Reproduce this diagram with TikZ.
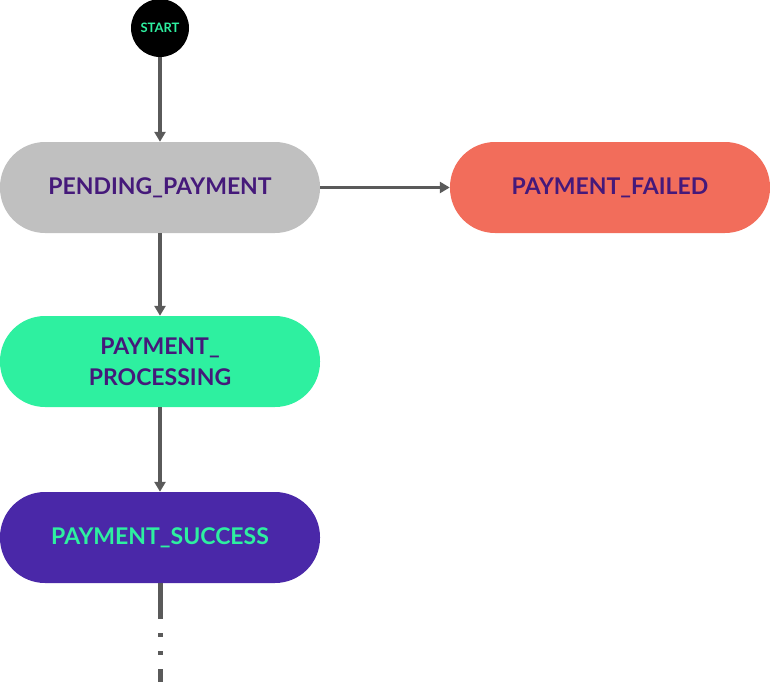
\documentclass[tikz,border=0pt]{standalone}
\usepackage{fontspec}
\setmainfont{Lato}
\usetikzlibrary{arrows.meta}
\definecolor{txtp}{HTML}{45197A}
\definecolor{gry}{HTML}{C0C0C0}
\definecolor{grn}{HTML}{2EF0A0}
\definecolor{prp}{HTML}{4A28A8}
\definecolor{red}{HTML}{F26D5B}
\definecolor{ln}{HTML}{5A5A5A}
\begin{document}
\begin{tikzpicture}[x=1pt,y=-1pt,
 st/.style={rounded corners=45pt,minimum width=320pt,minimum height=91pt,inner sep=0pt,align=center,font=\fontsize{23}{31}\selectfont\bfseries,text=txtp},
 ar/.style={draw=ln,line width=3.5pt,-{Triangle[length=10pt,width=11pt]}}]
\useasboundingbox (0,0) rectangle (770,682);
\node[circle,fill=black,minimum size=58pt,inner sep=0pt,text=grn,font=\fontsize{13}{15}\selectfont\bfseries] (s) at (160,28) {START};
\node[st,fill=gry] (p) at (160,187.5) {PENDING\_PAYMENT};
\node[st,fill=red] (f) at (610,187.5) {PAYMENT\_FAILED};
\node[st,fill=grn] (r) at (160,361.5) {PAYMENT\_\\PROCESSING};
\node[st,fill=prp,text=grn] (u) at (160,537.5) {PAYMENT\_SUCCESS};
\coordinate (e) at (160,682);
\draw[ar] (s) -- (p);
\draw[ar] (p) -- (f);
\draw[ar] (p) -- (r);
\draw[ar] (r) -- (u);
\draw[draw=ln,line width=5pt,dash pattern=on 36pt off 14pt on 4pt off 14pt on 4pt off 14pt on 20pt] (u.south) -- (e);
\end{tikzpicture}
\end{document}
